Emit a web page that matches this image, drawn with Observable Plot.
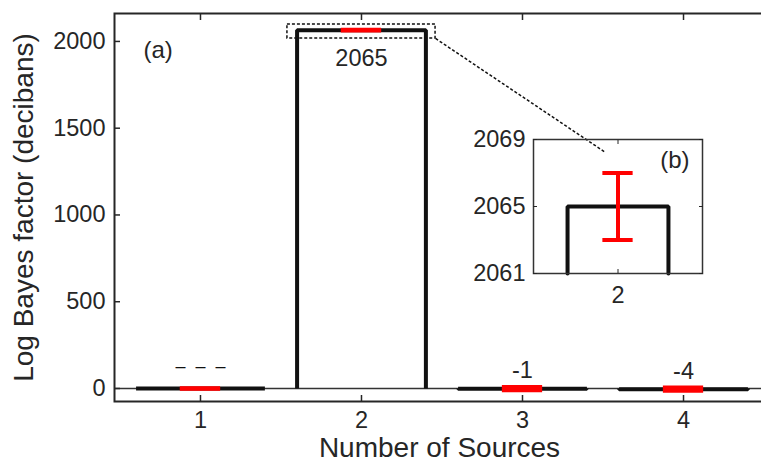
<!DOCTYPE html>
<html><head><meta charset="utf-8">
<script src="https://cdn.jsdelivr.net/npm/d3@7"></script>
<script src="https://cdn.jsdelivr.net/npm/@observablehq/plot@0.6"></script>
<style>
body{margin:0;background:#fff;}
#wrap{position:relative;width:761px;height:462px;overflow:hidden;font-family:Arial,"Liberation Sans",sans-serif;}
#main{position:absolute;left:0;top:0;}
#inset{position:absolute;left:453px;top:119px;}
</style></head><body><div id="wrap"><div id="main"></div><div id="inset"></div></div>
<script>
// ---- data ----
const sources = [1, 2, 3, 4];
const logBayes = [0, 2065, -1, -4];
const errHalf = [1, 2, 9.5, 9.5];
const valueLabels = ["\u2013\u00a0\u00a0\u2013\u00a0\u00a0\u2013", "2065", "-1", "-4"];
const labelBelow = [false, true, false, false];
const yTicks = [0, 500, 1000, 1500, 2000];
const insetSource = 2;
const insetValue = 2065;
const insetErrHalf = 2;
const insetYTicks = [2061, 2065, 2069];
const zoomBox = {x1: 1.54, x2: 2.46, y1: 2017, y2: 2098};
const zoomLink = {x1: 2.46, y1: 2017, x2: 3.516, y2: 1360};

const FONT = "Arial, 'Liberation Sans', sans-serif";
const NUM = 23.5;
const barHalf = 0.4, capHalf = 0.125;

const barOutline = sources.flatMap((s, i) => [
  {s, x: s - barHalf, y: 0},
  {s, x: s - barHalf, y: logBayes[i]},
  {s, x: s + barHalf, y: logBayes[i]},
  {s, x: s + barHalf, y: 0}
]);
const errRows = sources.map((s, i) => ({s, lo: logBayes[i] - errHalf[i], hi: logBayes[i] + errHalf[i]}));
const labelRows = sources.map((s, i) => ({s, v: logBayes[i], t: valueLabels[i], below: labelBelow[i]}));

const main = Plot.plot({
  width: 761, height: 462,
  marginLeft: 114, marginTop: 13, marginRight: -3, marginBottom: 61,
  style: {fontFamily: FONT, fontSize: NUM + "px", color: "#262626", background: "transparent"},
  x: {domain: [0.466, 4.503]},
  y: {domain: [-75, 2161]},
  marks: [
    Plot.ruleY([0], {stroke: "#333", strokeWidth: 1.5}),
    Plot.line(barOutline, {x: "x", y: "y", z: "s", stroke: "#111", strokeWidth: 4, strokeLinejoin: "miter", strokeLinecap: "butt"}),
    Plot.ruleX(errRows, {x: "s", y1: "lo", y2: "hi", stroke: "#ff0000", strokeWidth: 4}),
    Plot.ruleY(errRows, {y: "lo", x1: d => d.s - capHalf, x2: d => d.s + capHalf, stroke: "#ff0000", strokeWidth: 4}),
    Plot.ruleY(errRows, {y: "hi", x1: d => d.s - capHalf, x2: d => d.s + capHalf, stroke: "#ff0000", strokeWidth: 4}),
    Plot.text(labelRows.filter(d => d.below), {x: "s", y: "v", text: "t", dy: 28, fontSize: NUM, fill: "#262626"}),
    Plot.text(labelRows.filter(d => !d.below && d.s !== 1), {x: "s", y: "v", text: "t", dy: -18, fontSize: NUM, fill: "#262626"}),
    Plot.text(labelRows.filter(d => d.s === 1), {x: "s", y: "v", text: "t", dy: -22, fontSize: 18, fill: "#111"}),
    Plot.rect([zoomBox], {x1: "x1", x2: "x2", y1: "y1", y2: "y2", fill: "none", stroke: "#111", strokeWidth: 1.5, strokeDasharray: "3,2"}),
    Plot.link([zoomLink], {x1: "x1", y1: "y1", x2: "x2", y2: "y2", stroke: "#111", strokeWidth: 1.5, strokeDasharray: "3,2"}),
    Plot.frame({stroke: "#262626", strokeWidth: 2}),
    Plot.axisY(yTicks, {tickSize: -6, tickPadding: 15, label: null, tickFormat: "d", strokeWidth: 1.5}),
    Plot.axisX(sources, {tickSize: -6, tickPadding: 16, label: null, tickFormat: "d", strokeWidth: 1.5}),
    Plot.axisX(sources, {anchor: "top", tickSize: -6, tickFormat: () => "", label: null, strokeWidth: 1.5}),
    Plot.text(["Number of Sources"], {text: d => d, frameAnchor: "bottom", textAnchor: "middle", lineAnchor: "middle", dy: 47, fontSize: 28, fill: "#262626"}),
    Plot.text(["Log Bayes factor (decibans)"], {text: d => d, frameAnchor: "left", textAnchor: "middle", lineAnchor: "middle", dx: -90, rotate: -90, fontSize: 28, fill: "#262626"}),
    Plot.text(["(a)"], {text: d => d, frameAnchor: "top-left", lineAnchor: "middle", dx: 29, dy: 37, textAnchor: "start", fontSize: 24, fill: "#262626"})
  ]
});
document.getElementById("main").append(main);

const insetBar = [
  {x: insetSource - barHalf, y: insetYTicks[0]},
  {x: insetSource - barHalf, y: insetValue},
  {x: insetSource + barHalf, y: insetValue},
  {x: insetSource + barHalf, y: insetYTicks[0]}
];
const insetErr = [{s: insetSource, lo: insetValue - insetErrHalf, hi: insetValue + insetErrHalf}];

const inset = Plot.plot({
  width: 269, height: 190,
  marginLeft: 80, marginTop: 20, marginRight: 20, marginBottom: 36,
  style: {fontFamily: FONT, fontSize: NUM + "px", color: "#262626", background: "transparent"},
  x: {domain: [1.33, 2.67]},
  y: {domain: [2061, 2069]},
  marks: [
    Plot.line(insetBar, {x: "x", y: "y", stroke: "#111", strokeWidth: 4, strokeLinejoin: "miter"}),
    Plot.ruleX(insetErr, {x: "s", y1: "lo", y2: "hi", stroke: "#ff0000", strokeWidth: 4}),
    Plot.ruleY(insetErr, {y: "lo", x1: d => d.s - 0.12, x2: d => d.s + 0.12, stroke: "#ff0000", strokeWidth: 4}),
    Plot.ruleY(insetErr, {y: "hi", x1: d => d.s - 0.12, x2: d => d.s + 0.12, stroke: "#ff0000", strokeWidth: 4}),
    Plot.frame({stroke: "#333", strokeWidth: 1.5}),
    Plot.axisY(insetYTicks, {tickSize: -4, tickPadding: 12, label: null, tickFormat: "d"}),
    Plot.axisY(insetYTicks, {anchor: "right", tickSize: -4, tickFormat: () => "", label: null}),
    Plot.axisX([insetSource], {tickSize: -4, tickPadding: 17, label: null, tickFormat: "d"}),
    Plot.axisX([insetSource], {anchor: "top", tickSize: -4, tickFormat: () => "", label: null}),
    Plot.text(["(b)"], {text: d => d, frameAnchor: "top-right", lineAnchor: "middle", dx: -13, dy: 21, textAnchor: "end", fontSize: 24, fill: "#262626"})
  ]
});
document.getElementById("inset").append(inset);
</script>
</body></html>
